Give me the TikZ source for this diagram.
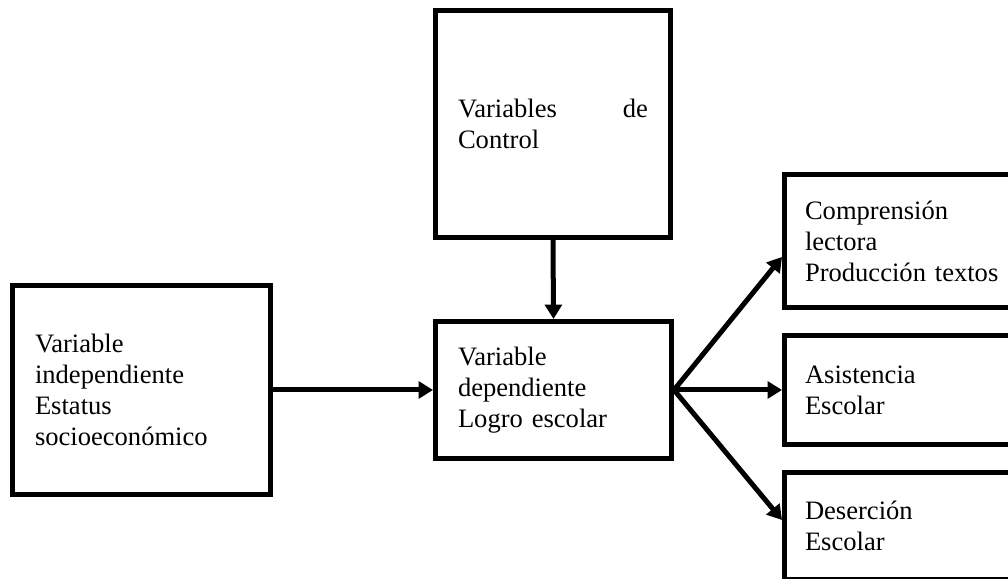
\documentclass[tikz,border=0pt]{standalone}
\usepackage{fontspec}
\setmainfont{Liberation Serif}
\usetikzlibrary{positioning}
\usetikzlibrary{shapes,calc,arrows.meta}
\tikzset{
	-{Triangle[length=0.36cm,width=0.42cm]},
	var/.style = {rectangle, draw, inner xsep=0.5625cm, inner ysep=0pt, align=left,
	 font=\fontsize{18.9pt}{22pt}\selectfont},
	res/.style = {var, inner xsep=0.5125cm, text width=6.475cm},
}

\begin{document}
\begin{tikzpicture}[line width=0.125cm]
	\clip (0,0) rectangle (25.2,14.475);
	\node (Indep) [var, text width=5.325cm, minimum height=5.225cm] at (3.5375,4.725) {Variable\\independiente\\Estatus\\socioecon\'omico};
	\node (Control) [var, text width=4.75cm, minimum height=5.675cm] at (13.825,11.375) {Variables \hfill de\\Control};
	\node (Dep) [var, text width=4.775cm, minimum height=3.425cm] at (13.8375,4.725) {Variable\\dependiente\\Logro escolar};
	\node (Comp) [res, minimum height=3.325cm] at (23.3625,8.45) {Comprensi\'on\\lectora\\Producci\'on textos};
	\node (Asis) [res, minimum height=2.725cm] at (23.3625,4.725) {Asistencia\\Escolar};
	\node (Deser) [res, minimum height=2.675cm] at (23.3625,1.325) {Deserci\'on\\Escolar};
	\path (Indep) edge (Dep);
	\path (Control.south) edge (Dep.north);
	\path (Dep.east) edge ([yshift=-0.4cm]Comp.west);
	\path (Dep.east) edge (Asis.west);
	\path (Dep.east) edge ([yshift=0.15cm]Deser.west);
\end{tikzpicture}
\end{document}
